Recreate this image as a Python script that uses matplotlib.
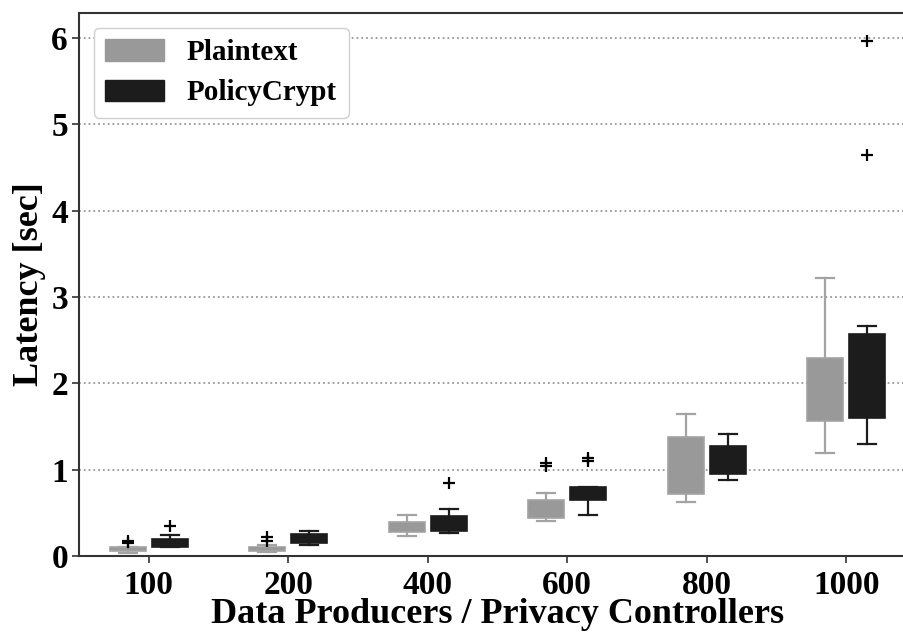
import matplotlib
matplotlib.use("Agg")
import matplotlib.pyplot as plt
from matplotlib.patches import Patch

categories = ["100", "200", "400", "600", "800", "1000"]

# Plaintext summary statistics
pt_q1 = [0.06, 0.06, 0.28, 0.44, 0.72, 1.56]
pt_med = [0.08, 0.09, 0.33, 0.55, 0.95, 2.00]
pt_q3 = [0.10, 0.11, 0.39, 0.65, 1.38, 2.29]
pt_lo = [0.03, 0.05, 0.23, 0.40, 0.63, 1.19]
pt_hi = [0.10, 0.125, 0.47, 0.73, 1.64, 3.22]
pt_fliers = [[0.17, 0.15], [0.22, 0.17], [], [1.08, 1.04], [], []]

# PolicyCrypt summary statistics
pc_q1 = [0.11, 0.15, 0.29, 0.65, 0.95, 1.60]
pc_med = [0.15, 0.20, 0.36, 0.75, 1.11, 1.73]
pc_q3 = [0.20, 0.25, 0.46, 0.80, 1.28, 2.57]
pc_lo = [0.10, 0.13, 0.265, 0.47, 0.88, 1.30]
pc_hi = [0.24, 0.29, 0.55, 0.80, 1.41, 2.66]
pc_fliers = [[0.35], [], [0.85], [1.135, 1.10], [], [5.96, 4.64]]

series = ["Plaintext", "PolicyCrypt"]

plt.rcParams['font.family'] = ['Liberation Serif', 'DejaVu Serif']
plt.rcParams['font.weight'] = 'bold'

fig = plt.figure(figsize=(9.04, 6.32), dpi=100)
ax = fig.add_axes([79/904, 76/632, 837/904, 543/632])

def stats(q1, med, q3, lo, hi, fl):
    return [dict(q1=a, med=b, q3=c, whislo=d, whishi=e, fliers=f)
            for a, b, c, d, e, f in zip(q1, med, q3, lo, hi, fl)]

pos = list(range(len(categories)))
specs = [
    (stats(pt_q1, pt_med, pt_q3, pt_lo, pt_hi, pt_fliers), -0.15, '#999999', '#a3a3a3'),
    (stats(pc_q1, pc_med, pc_q3, pc_lo, pc_hi, pc_fliers), 0.15, '#1c1c1c', '#1c1c1c'),
]
for st, off, fc, lc in specs:
    ax.bxp(st, positions=[p + off for p in pos], widths=0.26, patch_artist=True,
           boxprops=dict(facecolor=fc, edgecolor=lc, linewidth=1.2),
           whiskerprops=dict(color=lc, linewidth=1.6),
           capprops=dict(color=lc, linewidth=1.6),
           medianprops=dict(color=fc, linewidth=1.2),
           flierprops=dict(marker='+', markeredgecolor='black', markersize=9,
                           markeredgewidth=1.6, linestyle='none'),
           manage_ticks=False, zorder=3)

ax.set_xlim(-0.5, 5.5)
ax.set_ylim(0, 6.29)
ax.set_xticks(pos)
ax.set_xticklabels(categories)
ax.set_yticks([0, 1, 2, 3, 4, 5, 6])
ax.tick_params(axis='both', labelsize=24, direction='out', length=5, width=1.2, color='#333333')
ax.tick_params(axis='x', pad=5)
ax.tick_params(axis='y', pad=3)
for lab in ax.get_xticklabels() + ax.get_yticklabels():
    lab.set_fontweight('bold')
ax.yaxis.grid(True, linestyle=':', color='#999999', linewidth=1.3, zorder=0)
ax.set_axisbelow(True)
for s in ax.spines.values():
    s.set_color('#333333')
    s.set_linewidth(1.5)

ax.set_xlabel("Data Producers / Privacy Controllers", fontsize=26, fontweight='bold', labelpad=-2)
ax.set_ylabel("Latency [sec]", fontsize=26, fontweight='bold', labelpad=4)

handles = [Patch(facecolor='#999999', edgecolor='#999999'),
           Patch(facecolor='#1c1c1c', edgecolor='#1c1c1c')]
leg = ax.legend(handles, series, loc='upper left', prop=dict(size=21, weight='bold'),
                handlelength=2.0, handleheight=0.75, framealpha=1, edgecolor='#d0d0d0',
                borderpad=0.4, labelspacing=0.45, handletextpad=0.8, borderaxespad=0.5)

fig.savefig("out.png", dpi=100)
